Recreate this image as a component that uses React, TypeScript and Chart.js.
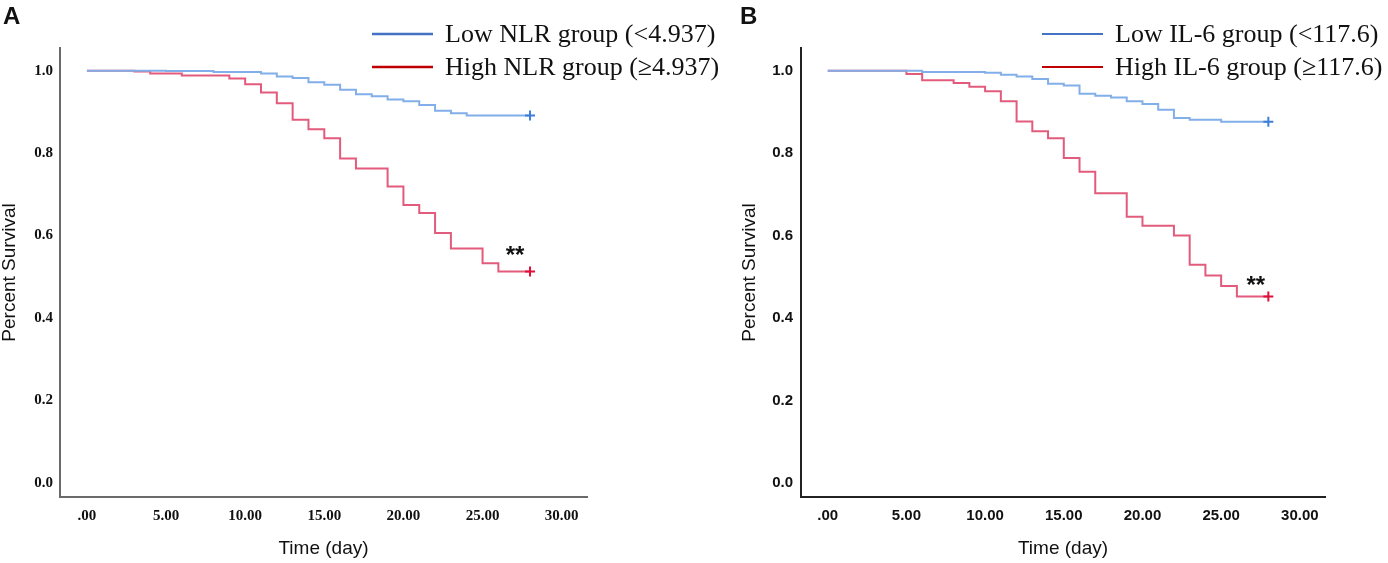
import React, { useEffect, useRef } from "react";
import { Chart, registerables } from "chart.js";

Chart.register(...registerables);

// ---------- data ----------
const X_TICKS = [0, 5, 10, 15, 20, 25, 30];
const X_TICK_LABELS = [".00", "5.00", "10.00", "15.00", "20.00", "25.00", "30.00"];
const Y_TICKS = [0, 0.2, 0.4, 0.6, 0.8, 1.0];
const Y_TICK_LABELS = ["0.0", "0.2", "0.4", "0.6", "0.8", "1.0"];

// Panel A (NLR)
const TIME_A_LOW = [0, 5, 8, 11, 12, 13, 14, 15, 16, 17, 18, 19, 20, 21, 22, 23, 24, 28];
const SURV_A_LOW = [1.0, 0.999, 0.997, 0.993, 0.986, 0.982, 0.972, 0.966, 0.954, 0.943, 0.938, 0.93, 0.926, 0.917, 0.903, 0.897, 0.891, 0.891];
const TIME_A_HIGH = [0, 3, 4, 6, 9, 10, 11, 12, 13, 14, 15, 16, 17, 19, 20, 21, 22, 23, 25, 26, 28];
const SURV_A_HIGH = [1.0, 0.998, 0.993, 0.988, 0.981, 0.967, 0.947, 0.921, 0.881, 0.858, 0.836, 0.787, 0.763, 0.719, 0.674, 0.655, 0.606, 0.569, 0.533, 0.513, 0.513];

// Panel B (IL-6)
const TIME_B_LOW = [0, 6, 10, 11, 12, 13, 14, 15, 16, 17, 18, 19, 20, 21, 22, 23, 25, 28];
const SURV_B_LOW = [1.0, 0.997, 0.995, 0.99, 0.986, 0.98, 0.968, 0.964, 0.944, 0.939, 0.935, 0.926, 0.919, 0.905, 0.885, 0.881, 0.876, 0.876];
const TIME_B_HIGH = [0, 5, 6, 8, 9, 10, 11, 12, 13, 14, 15, 16, 17, 19, 20, 22, 23, 24, 25, 26, 28];
const SURV_B_HIGH = [1.0, 0.992, 0.977, 0.97, 0.961, 0.95, 0.926, 0.877, 0.853, 0.836, 0.788, 0.755, 0.703, 0.646, 0.624, 0.6, 0.529, 0.503, 0.478, 0.452, 0.452];

const LEGEND_A = ["Low NLR group (<4.937)", "High NLR group (\u22654.937)"];
const LEGEND_B = ["Low IL-6 group (<117.6)", "High IL-6 group (\u2265117.6)"];
const STAR_TEXT = "**";
const STAR_A = [27.05, 0.55];
const STAR_B = [27.2, 0.477];

const X_TITLE = "Time (day)";
const Y_TITLE = "Percent Survival";

// ---------- styles ----------
const BLUE_LINE = "#82afe9";
const RED_LINE = "#e35b7c";
const BLUE_MARK = "#3d7fd8";
const RED_MARK = "#e0103a";
const LEG_BLUE = "#4472c4";
const LEG_RED = "#c00000";

const SANS = '"Liberation Sans", Arial, sans-serif';
const SERIF = '"Liberation Serif", "Times New Roman", serif';

const overlayPlugin = {
  id: "kmOverlay",
  afterDatasetsDraw(chart: any, _args: any, opts: any) {
    const ctx = chart.ctx;
    ctx.save();
    const labels: string[] = opts.labels || [];
    const colors: string[] = opts.colors || [];
    labels.forEach((label, i) => {
      const y = opts.rowY[i];
      ctx.strokeStyle = colors[i];
      ctx.lineWidth = opts.lineWidth;
      ctx.beginPath();
      ctx.moveTo(opts.lineX, y);
      ctx.lineTo(opts.lineX + opts.lineLen, y);
      ctx.stroke();
      ctx.fillStyle = "#111";
      ctx.font = `26px ${SERIF}`;
      ctx.textAlign = "left";
      ctx.textBaseline = "middle";
      ctx.fillText(label, opts.textX, y + 1);
    });
    const xs = chart.scales.x;
    const ys = chart.scales.y;
    ctx.fillStyle = "#111";
    ctx.font = `bold 24px ${SANS}`;
    ctx.textAlign = "center";
    ctx.textBaseline = "middle";
    ctx.fillText(opts.star, xs.getPixelForValue(opts.starPos[0]), ys.getPixelForValue(opts.starPos[1]));
    ctx.restore();
  },
};

type PanelProps = {
  width: number;
  left: number;
  lowT: number[];
  lowS: number[];
  highT: number[];
  highS: number[];
  legend: string[];
  star: number[];
  yAxisWidth: number;
  padRight: number;
  tickFont: any;
  yTickPad: number;
  axisColor: string;
  legendX: number;
  legendTextX: number;
  legendLineWidth: number;
};

function Panel(p: PanelProps) {
  const ref = useRef<HTMLCanvasElement | null>(null);
  useEffect(() => {
    if (!ref.current) return;
    const last = (c: any) => c.dataIndex === c.dataset.data.length - 1;
    const chart = new Chart(ref.current, {
      type: "line",
      data: {
        datasets: [
          {
            label: p.legend[0],
            data: p.lowT.map((t, i) => ({ x: t, y: p.lowS[i] })),
            stepped: true,
            borderColor: BLUE_LINE,
            borderWidth: 2,
            fill: false,
            pointStyle: "cross",
            pointRadius: (c: any) => (last(c) ? 5 : 0),
            pointBorderColor: BLUE_MARK,
            pointBorderWidth: 2,
            pointHitRadius: 0,
          },
          {
            label: p.legend[1],
            data: p.highT.map((t, i) => ({ x: t, y: p.highS[i] })),
            stepped: true,
            borderColor: RED_LINE,
            borderWidth: 2,
            fill: false,
            pointStyle: "cross",
            pointRadius: (c: any) => (last(c) ? 5 : 0),
            pointBorderColor: RED_MARK,
            pointBorderWidth: 2,
            pointHitRadius: 0,
          },
        ],
      },
      options: {
        animation: false,
        responsive: false,
        devicePixelRatio: 1,
        events: [],
        layout: { padding: { top: 48, right: p.padRight, bottom: 0, left: 0 } },
        plugins: {
          legend: { display: false },
          tooltip: { enabled: false },
          kmOverlay: {
            labels: p.legend,
            colors: [LEG_BLUE, LEG_RED],
            rowY: [34, 67],
            lineX: p.legendX,
            lineLen: 61,
            textX: p.legendTextX,
            lineWidth: p.legendLineWidth,
            star: STAR_TEXT,
            starPos: p.star,
          },
        } as any,
        scales: {
          x: {
            type: "linear",
            min: -1.7,
            max: 31.6,
            afterBuildTicks: (s: any) => {
              s.ticks = X_TICKS.map((v) => ({ value: v }));
            },
            afterFit: (s: any) => {
              s.height = 66;
            },
            grid: { display: false, drawTicks: false },
            border: { display: true, color: p.axisColor, width: 2 },
            ticks: {
              autoSkip: false,
              maxRotation: 0,
              padding: 10,
              color: "#111",
              font: p.tickFont,
              callback: (_v: any, i: number) => X_TICK_LABELS[i],
            },
            title: {
              display: true,
              text: X_TITLE,
              color: "#111",
              font: { family: SANS, size: 19, lineHeight: 1 },
              padding: { top: 0, bottom: 5 },
            },
          },
          y: {
            type: "linear",
            min: -0.034,
            max: 1.055,
            afterBuildTicks: (s: any) => {
              s.ticks = Y_TICKS.map((v) => ({ value: v }));
            },
            afterFit: (s: any) => {
              s.width = p.yAxisWidth;
            },
            grid: { display: false, drawTicks: false },
            border: { display: true, color: p.axisColor, width: 2 },
            ticks: {
              padding: p.yTickPad,
              color: "#111",
              font: p.tickFont,
              callback: (_v: any, i: number) => Y_TICK_LABELS[i],
            },
            title: {
              display: true,
              text: Y_TITLE,
              color: "#111",
              font: { family: SANS, size: 19, lineHeight: 1 },
              padding: { top: 0, bottom: 0 },
            },
          },
        },
      },
      plugins: [overlayPlugin],
    } as any);
    return () => chart.destroy();
  }, []);
  return (
    <canvas
      ref={ref}
      width={p.width}
      height={563}
      style={{ position: "absolute", left: p.left, top: 0, width: p.width, height: 563 }}
    />
  );
}

export default function App() {
  return (
    <div
      style={{
        position: "fixed",
        left: 0,
        top: 0,
        width: 1388,
        height: 563,
        background: "#fff",
        overflow: "hidden",
      }}
    >
      <Panel
        width={740}
        left={0}
        lowT={TIME_A_LOW}
        lowS={SURV_A_LOW}
        highT={TIME_A_HIGH}
        highS={SURV_A_HIGH}
        legend={LEGEND_A}
        star={STAR_A}
        yAxisWidth={60}
        padRight={153}
        tickFont={{ family: SERIF, size: 15, weight: "bold" }}
        yTickPad={7}
        axisColor="#6a6a6a"
        legendX={372}
        legendTextX={445}
        legendLineWidth={2.5}
      />
      <Panel
        width={648}
        left={740}
        lowT={TIME_B_LOW}
        lowS={SURV_B_LOW}
        highT={TIME_B_HIGH}
        highS={SURV_B_HIGH}
        legend={LEGEND_B}
        star={STAR_B}
        yAxisWidth={61}
        padRight={63}
        tickFont={{ family: SANS, size: 15, weight: "bold" }}
        yTickPad={8}
        axisColor="#222"
        legendX={302}
        legendTextX={375}
        legendLineWidth={1.8}
      />
      <div
        style={{
          position: "absolute",
          left: 3,
          top: 2,
          font: `bold 24px ${SANS}`,
          color: "#111",
        }}
      >
        A
      </div>
      <div
        style={{
          position: "absolute",
          left: 740,
          top: 2,
          font: `bold 24px ${SANS}`,
          color: "#111",
        }}
      >
        B
      </div>
    </div>
  );
}
